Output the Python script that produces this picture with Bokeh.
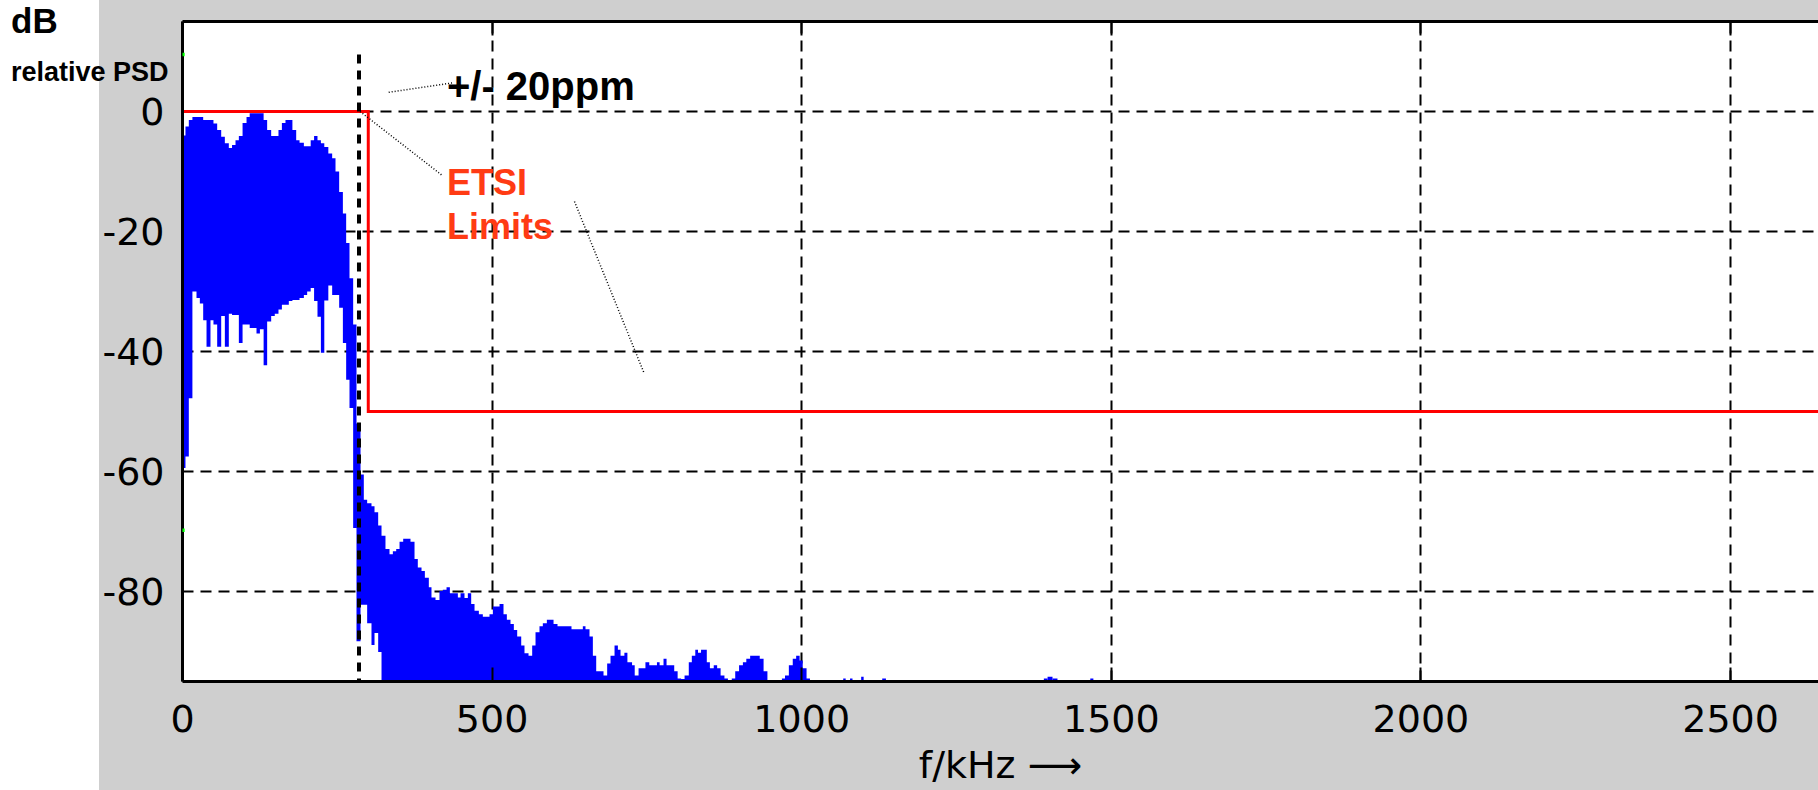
from bokeh.plotting import figure
from bokeh.models import Range1d, LinearAxis, FixedTicker, Label, BoxAnnotation, Div
from bokeh.layouts import column
from bokeh.embed import file_html
from bokeh.resources import INLINE

# ---------------- data ----------------
x_ticks = [0, 500, 1000, 1500, 2000, 2500]
y_ticks = [-80, -60, -40, -20, 0]

# in-band part of the spectrum: step edges (kHz), max and min PSD (dB)
band_edges_khz = [0, 4.8, 10.2, 16, 22.6, 28, 33.4, 38.8, 45.2, 50,
                  56, 62.5, 68.4, 74.8, 80, 85.6, 91, 97, 103.4, 108.5,
                  119.5, 125, 131, 136.7, 143.2, 149, 155, 160.5, 166.3, 171.7,
                  177.5, 183.6, 189, 196, 201.3, 207, 212.5, 218, 223.5, 229,
                  235.5, 241.7, 247.1, 253, 259, 264.3, 269.7, 275.6, 281, 287.5,
                  292.8, 298.2, 305.2, 310.1, 316, 321.4]
band_max_db = [-4.0, -2.5, -1.4, -0.9, -0.9, -0.9, -1.4, -1.4, -1.4, -2.0,
               -3.1, -4.2, -5.3, -6.1, -5.6, -4.8, -4.1, -1.9, -0.9, -0.3,
               -0.3, -0.3, -1.4, -3.1, -4.1, -4.1, -3.1, -1.9, -1.4, -1.4,
               -3.1, -4.8, -5.2, -5.8, -5.8, -4.8, -4.1, -4.8, -5.3, -5.9,
               -7.0, -7.8, -10.0, -13.4, -17.0, -21.9, -27.8, -35.5, -52.0, -60.5,
               -64.7, -65.3, -65.8, -66.8, -69.0]
band_min_db = [-59.4, -57.5, -47.8, -30.0, -31.1, -32.0, -34.8, -39.2, -34.8, -35.5,
               -39.2, -34.1, -39.2, -33.7, -33.9, -33.9, -38.6, -35.5, -35.5, -36.1,
               -37.0, -36.3, -42.3, -35.0, -34.1, -33.7, -33.0, -32.2, -32.2, -31.6,
               -31.4, -31.4, -31.1, -30.6, -30.0, -29.4, -31.6, -34.2, -40.2, -31.5,
               -29.0, -30.6, -30.6, -32.7, -38.6, -44.7, -49.4, -69.4, -88.3, -82.2,
               -82.2, -85.3, -88.9, -86.9, -90.1]

# out-of-band part (reaches below the plot floor): edges (kHz) and max PSD (dB)
tail_edges_khz = [321.4, 327.8, 334.3, 339.7, 345.1, 350.5, 356.4, 368.2, 374.7, 380,
                  386, 391.4, 397.8, 402.1, 408.6, 415, 420.4, 426.4, 431.8, 444.7,
                  449, 455.4, 460.8, 466.2, 471.6, 478.6, 485, 495.8, 501.2, 512,
                  518.4, 523.8, 529.7, 535.1, 540.5, 547, 552.3, 558.8, 564.7, 570.1,
                  576.5, 581.9, 588.4, 599.2, 605.6, 628.2, 646.5, 650.8, 657.3, 662.7,
                  668.1, 679.9, 685.8, 691.2, 697.7, 703.1, 707.4, 713.6, 718.5, 726,
                  730.3, 736.5, 747.6, 753.8, 766.2, 770.5, 776.8, 781.7, 794.1, 799.6,
                  805.2, 810.8, 817.6, 822.5, 828.1, 832.5, 837.4, 846.7, 851.7, 857.9,
                  863.4, 869, 875.2, 880.8, 887, 892.6, 898.8, 905, 910.5, 916.7,
                  932.2, 938.4, 944.6, 968, 973, 979.2, 985.5, 991, 996.6, 1001.6,
                  1007.8, 1013.3]
tail_max_db = [-70.7, -72.9, -73.8, -73.3, -72.9, -71.7, -71.2, -71.7, -74.6, -76.0,
               -76.6, -77.7, -79.3, -81.0, -81.4, -79.9, -79.7, -79.3, -80.3, -81.0,
               -80.3, -81.1, -80.3, -82.1, -83.2, -83.8, -84.2, -83.8, -82.5, -82.1,
               -83.8, -84.7, -85.4, -86.4, -87.5, -89.0, -90.3, -90.7, -89.0, -86.8,
               -85.8, -85.3, -84.7, -85.4, -85.8, -86.3, -85.8, -86.3, -87.5, -90.7,
               -93.3, -94.0, -92.0, -90.7, -89.0, -89.7, -90.7, -90.2, -91.8, -92.3,
               -94.0, -92.8, -91.8, -92.3, -91.8, -92.3, -91.2, -92.3, -93.3, -94.5,
               -94.6, -94.0, -91.8, -90.7, -89.7, -90.2, -89.7, -91.8, -92.8, -92.3,
               -92.8, -94.0, -94.5, -96.0, -94.5, -93.3, -92.3, -91.8, -91.2, -90.7,
               -91.2, -93.3, -96.0, -94.5, -94.0, -92.3, -91.2, -90.7, -91.5, -92.8,
               -94.5]

# isolated small components further out
blip_left_khz = [1067, 1078, 1096, 1130, 1391, 1397, 1405, 1466]
blip_right_khz = [1071, 1082, 1100, 1136, 1397, 1405, 1413, 1471]
blip_max_db = [-94.5, -94.5, -94.2, -94.5, -94.5, -94.2, -94.5, -94.5]

# ETSI spectral mask
etsi_f_khz = [0, 300, 300, 2700]
etsi_db = [0, 0, -50, -50]

# +/- 20 ppm marker
ppm_f_khz = [285, 285]
ppm_db = [9.5, -95]

# dotted leader lines of the annotations
lead_ppm_f = [333, 438]
lead_ppm_db = [3.2, 4.8]
lead_etsi_f = [283, 420]
lead_etsi_db = [0.3, -10.7]
lead_lim_f = [633, 745]
lead_lim_db = [-15.0, -43.5]

FLOOR_DB = -100.0

assert len(band_edges_khz) == len(band_max_db) + 1 == len(band_min_db) + 1
assert len(tail_edges_khz) == len(tail_max_db) + 1

# ---------------- figure ----------------
W, H = 1818, 790
p = figure(width=W, height=H, x_range=Range1d(0, 2642), y_range=Range1d(-95, 15),
           output_backend="svg", toolbar_location=None,
           min_border_left=182, min_border_right=0, min_border_top=21, min_border_bottom=109,
           border_fill_color=None, background_fill_color="white",
           outline_line_color=None)
# white strip on the far left, grey panel behind the chart
p.styles = {"background": "linear-gradient(to right, #ffffff 0px, #ffffff 99px, #cfcfcf 99px, #cfcfcf 100%)"}

TICK_FONT = "DejaVu Sans"
BOLD = "Liberation Sans"

p.xaxis.ticker = FixedTicker(ticks=x_ticks)
p.yaxis.ticker = FixedTicker(ticks=y_ticks)
p.yaxis.major_label_overrides = {t: str(t) for t in y_ticks}
for ax in (p.xaxis[0], p.yaxis[0]):
    ax.axis_line_width = 3
    ax.axis_line_color = "black"
    ax.major_tick_out = 0
    ax.minor_tick_in = 0
    ax.minor_tick_out = 0
    ax.major_tick_line_width = 2
    ax.major_label_text_font = TICK_FONT
    ax.major_label_text_font_size = "38px"
    ax.major_label_text_color = "black"
p.xaxis.major_tick_in = 14
p.yaxis.major_tick_in = 0
p.xaxis.major_label_standoff = 23
p.yaxis.major_label_standoff = 18

p.xaxis.axis_label = "f/kHz \u27f6"
p.xaxis.axis_label_text_font = TICK_FONT
p.xaxis.axis_label_text_font_size = "38px"
p.xaxis.axis_label_text_font_style = "normal"
p.xaxis.axis_label_text_color = "black"
p.xaxis.axis_label_standoff = 8

# top border with inner ticks (minor ticks only, so no tick labels)
top_axis = LinearAxis(ticker=FixedTicker(ticks=[], minor_ticks=x_ticks), axis_line_width=3,
                      major_tick_in=0, major_tick_out=0,
                      minor_tick_in=14, minor_tick_out=0, minor_tick_line_width=2,
                      minor_tick_line_color="black")
p.add_layout(top_axis, "above")

for g in (p.xgrid[0], p.ygrid[0]):
    g.grid_line_color = "black"
    g.grid_line_width = 2
    g.grid_line_dash = "11 7"

# spectrum as one filled step polygon
edges = band_edges_khz + tail_edges_khz[1:]
tops = band_max_db + tail_max_db
bots = band_min_db + [FLOOR_DB] * len(tail_max_db)
xs, ys = [], []
for i in range(len(tops)):
    xs += [edges[i], edges[i + 1]]
    ys += [tops[i], tops[i]]
for i in reversed(range(len(bots))):
    xs += [edges[i + 1], edges[i]]
    ys += [bots[i], bots[i]]
p.patch(xs, ys, fill_color="#0000ff", line_color=None)
p.quad(left=blip_left_khz, right=blip_right_khz, top=blip_max_db,
       bottom=[FLOOR_DB] * len(blip_max_db), fill_color="#0000ff", line_color=None)

# ETSI limit mask
p.line(etsi_f_khz, etsi_db, line_color="#ff0000", line_width=3, line_join="miter")

# +/- 20ppm marker
p.line(ppm_f_khz, ppm_db, line_color="black", line_width=4, line_dash="9 7")

# leader lines
for lx, ly in ((lead_ppm_f, lead_ppm_db), (lead_etsi_f, lead_etsi_db), (lead_lim_f, lead_lim_db)):
    p.line(lx, ly, line_color="black", line_width=1.5, line_dash="1 2")

# tiny green markers on the left axis
for b, t in ((9.2, 9.8), (-70.1, -69.5)):
    p.add_layout(BoxAnnotation(left=-3, right=3.5, bottom=b, top=t,
                               fill_color="#00ff00", fill_alpha=1.0, line_color=None,
                               level="overlay"))

p.add_layout(Label(x=427, y=4.3, text="+/- 20ppm", text_font=BOLD, text_font_size="40px",
                   text_font_style="bold", text_color="black", text_baseline="alphabetic"))
p.add_layout(Label(x=427, y=-11.9, text="ETSI", text_font=BOLD, text_font_size="36px",
                   text_font_style="bold", text_color="#ff3b14", text_baseline="alphabetic"))
p.add_layout(Label(x=427, y=-19.1, text="Limits", text_font=BOLD, text_font_size="36px",
                   text_font_style="bold", text_color="#ff3b14", text_baseline="alphabetic"))

# axis captions at the top-left of the page (outside the plot frame)
cap_style = "position:absolute;left:6px;font-family:'Liberation Sans',Arial,sans-serif;" \
            "font-weight:bold;color:#000;white-space:nowrap;"
captions = Div(
    text=(f'<div style="{cap_style}top:-2px;font-size:35px;line-height:35px;">dB</div>'
          f'<div style="{cap_style}top:54px;font-size:27px;line-height:27px;">relative PSD</div>'),
    width=200, height=100,
    styles={"position": "absolute", "left": "0px", "top": "0px", "z-index": "10"})

layout = column(captions, p, spacing=0)

open("out.html", "w").write(file_html(layout, INLINE))
